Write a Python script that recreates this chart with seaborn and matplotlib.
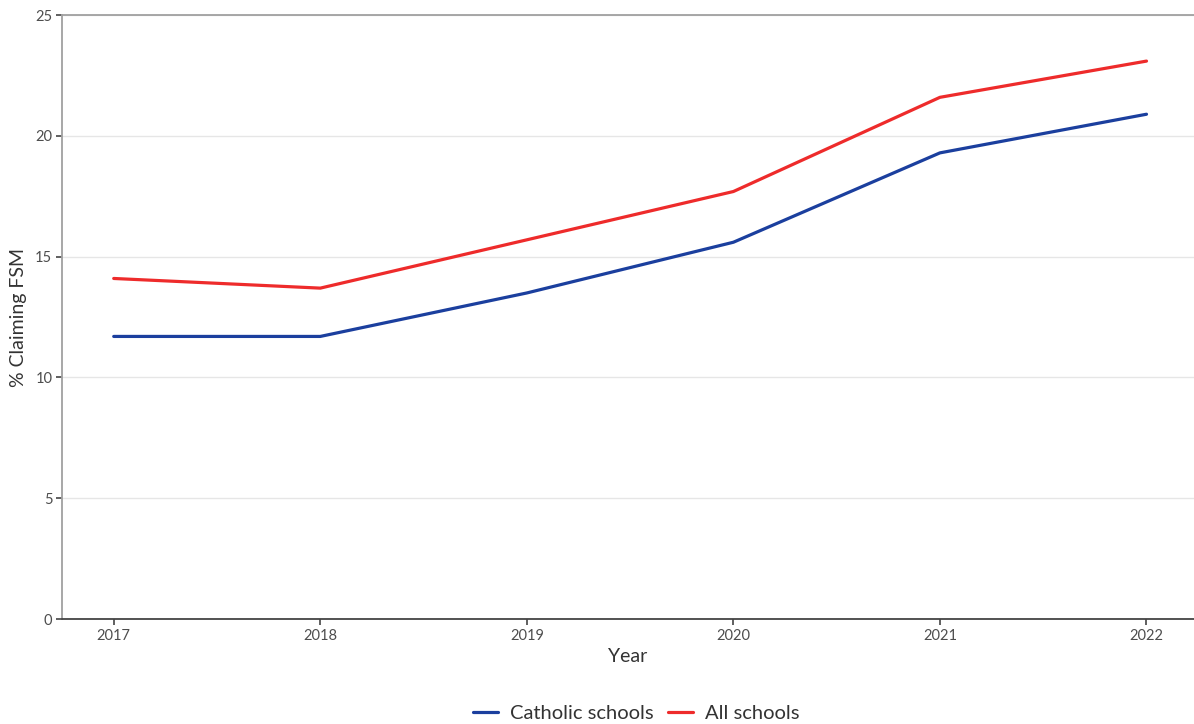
import numpy as np
import pandas as pd
import matplotlib
matplotlib.use("Agg")
import matplotlib.pyplot as plt
import seaborn as sns

years = [2017, 2018, 2019, 2020, 2021, 2022]
catholic = [11.7, 11.7, 13.5, 15.6, 19.3, 20.9]
all_schools = [14.1, 13.7, 15.7, 17.7, 21.6, 23.1]
series_names = ["Catholic schools", "All schools"]
colours = ["#1b3f9e", "#ee2b2b"]

df = pd.DataFrame({
    "Year": years * 2,
    "value": catholic + all_schools,
    "group": [series_names[0]] * len(years) + [series_names[1]] * len(years),
})

sns.set_style("white")
plt.rcParams["font.family"] = ["Lato", "DejaVu Sans"]

fig = plt.figure(figsize=(11.94, 7.24), dpi=100)
ax = fig.add_axes([0.052, 0.145, 0.948, 0.834])

sns.lineplot(data=df, x="Year", y="value", hue="group", hue_order=series_names,
             palette=colours, linewidth=2.3, ax=ax, legend=True)

ax.set_xlim(2016.75, 2022.23)
ax.set_ylim(0, 25)
ax.set_xticks(years)
ax.set_yticks([0, 5, 10, 15, 20, 25])
ax.yaxis.grid(True, color="#e6e6e6", linewidth=1)
ax.set_axisbelow(True)

for s in ["left", "top"]:
    ax.spines[s].set_color("#a0a0a0")
    ax.spines[s].set_linewidth(1.3)
ax.spines["bottom"].set_color("#444444")
ax.spines["bottom"].set_linewidth(1.3)
ax.spines["right"].set_visible(False)

ax.tick_params(axis="both", bottom=True, left=True, length=4, width=1.2,
               color="#444444", labelsize=10.5, labelcolor="#4d4d4d",
               direction="out", pad=3)
ax.set_xlabel("Year", fontsize=14, color="#333333", labelpad=4)
ax.set_ylabel("% Claiming FSM", fontsize=14, color="#333333", labelpad=6)

handles, labels = ax.get_legend_handles_labels()
ax.get_legend().remove()
fig.legend(handles, labels, loc="lower center", ncol=2, frameon=False,
           fontsize=14.5, bbox_to_anchor=(0.533, -0.022), handlelength=1.25,
           handletextpad=0.6, labelcolor="#333333", columnspacing=0.7)

fig.savefig("out.png", dpi=100)
